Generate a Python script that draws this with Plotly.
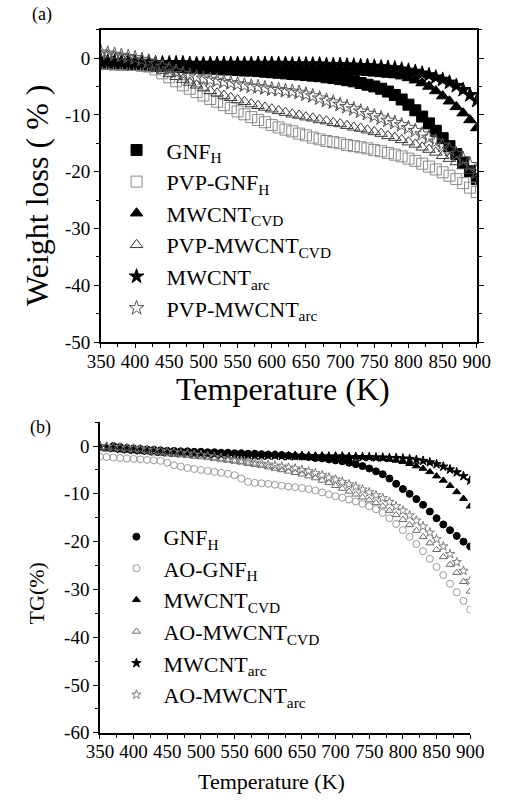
import plotly.graph_objects as go

# ---------------- data ----------------
T = [350, 360, 370, 380, 390, 400, 410, 420, 430, 440, 450, 460, 470, 480, 490,
     500, 510, 520, 530, 540, 550, 560, 570, 580, 590, 600, 610, 620, 630, 640,
     650, 660, 670, 680, 690, 700, 710, 720, 730, 740, 750, 760, 770, 780, 790,
     800, 810, 820, 830, 840, 850, 860, 870, 880, 890, 900]
T_b_gnf = T[2:]  # filled GNF_H in panel (b) starts at 370 K

# panel (a)
a_gnf = [-1.0, -1.0, -1.1, -1.1, -1.2, -1.2, -1.3, -1.3, -1.4, -1.4, -1.5, -1.5, -1.6, -1.7, -1.7,
         -1.8, -1.8, -1.9, -2.0, -2.0, -2.1, -2.2, -2.2, -2.3, -2.4, -2.5, -2.6, -2.7, -2.8, -2.9,
         -3.0, -3.1, -3.2, -3.4, -3.5, -3.7, -3.9, -4.1, -4.4, -4.7, -5.0, -5.4, -5.9, -6.5, -7.3,
         -8.2, -9.2, -10.3, -11.5, -12.8, -14.1, -15.5, -16.9, -18.4, -19.9, -21.3]
a_pvp_gnf = [-1.0, -1.0, -1.1, -1.1, -1.2, -1.2, -1.3, -1.5, -2.0, -2.7, -3.4, -4.1, -4.8, -5.4, -6.0,
             -6.6, -7.2, -7.7, -8.3, -8.8, -9.4, -9.9, -10.4, -10.9, -11.3, -11.8, -12.2, -12.6, -12.9, -13.3,
             -13.6, -14.0, -14.3, -14.6, -14.8, -15.0, -15.3, -15.5, -15.7, -15.9, -16.2, -16.4, -16.7, -17.0, -17.3,
             -17.7, -18.1, -18.6, -19.1, -19.6, -20.1, -20.7, -21.3, -22.0, -22.8, -23.6]
a_cvd = [-0.8, -0.9, -0.9, -1.0, -1.0, -1.1, -1.1, -1.2, -1.2, -1.3, -1.3, -1.4, -1.4, -1.5, -1.5,
         -1.5, -1.6, -1.6, -1.7, -1.7, -1.7, -1.8, -1.8, -1.9, -1.9, -2.0, -2.0, -2.0, -2.1, -2.1,
         -2.2, -2.2, -2.2, -2.3, -2.3, -2.4, -2.4, -2.5, -2.5, -2.6, -2.7, -2.8, -2.9, -3.0, -3.2,
         -3.5, -3.9, -4.4, -5.0, -5.8, -6.7, -7.6, -8.6, -9.7, -10.9, -12.3]
a_pvp_cvd = [0.5, 0.4, 0.2, 0.0, -0.3, -0.5, -0.8, -1.2, -1.7, -2.2, -2.8, -3.3, -3.8, -4.3, -4.8,
             -5.3, -5.8, -6.2, -6.6, -7.0, -7.4, -7.7, -8.1, -8.4, -8.7, -9.0, -9.3, -9.6, -9.9, -10.1,
             -10.4, -10.6, -10.9, -11.1, -11.4, -11.6, -11.9, -12.2, -12.4, -12.7, -13.0, -13.3, -13.7, -14.0, -14.4,
             -14.8, -15.2, -15.7, -16.1, -16.6, -17.2, -17.7, -18.3, -19.0, -19.8, -20.6]
a_arc = [-0.5, -0.6, -0.6, -0.7, -0.7, -0.8, -0.8, -0.8, -0.9, -0.9, -0.9, -0.9, -0.9, -1.0, -1.0,
         -1.0, -1.0, -1.0, -1.0, -1.0, -1.0, -1.0, -1.0, -1.0, -1.0, -1.0, -1.0, -1.0, -1.1, -1.1,
         -1.1, -1.1, -1.1, -1.2, -1.2, -1.2, -1.3, -1.3, -1.4, -1.4, -1.5, -1.6, -1.7, -1.8, -2.0,
         -2.2, -2.4, -2.7, -3.0, -3.4, -3.8, -4.3, -4.9, -5.6, -6.5, -7.5]
a_pvp_arc = [1.0, 0.8, 0.6, 0.4, 0.2, 0.0, -0.3, -0.6, -1.0, -1.5, -2.0, -2.4, -2.8, -3.1, -3.4,
             -3.6, -3.8, -4.0, -4.2, -4.4, -4.6, -4.8, -5.0, -5.1, -5.3, -5.5, -5.6, -5.8, -5.9, -6.1,
             -6.4, -6.7, -7.1, -7.5, -7.8, -8.2, -8.6, -9.0, -9.4, -9.8, -10.2, -10.6, -11.0, -11.4, -11.8,
             -12.3, -12.8, -13.4, -14.0, -14.7, -15.4, -16.1, -16.9, -17.8, -18.8, -20.0]

# panel (b)
b_gnf = [0.0, -0.2, -0.4, -0.5, -0.6, -0.7, -0.8, -0.9, -1.0, -1.0, -1.1, -1.1, -1.2,
         -1.2, -1.3, -1.3, -1.4, -1.4, -1.5, -1.5, -1.6, -1.6, -1.7, -1.8, -1.8, -1.9, -2.0, -2.1,
         -2.2, -2.3, -2.5, -2.6, -2.8, -3.0, -3.2, -3.5, -3.8, -4.2, -4.7, -5.3, -5.9, -6.8, -7.9,
         -9.0, -10.0, -11.1, -12.3, -13.7, -15.1, -16.4, -17.6, -18.8, -20.0, -21.0]
b_ao_gnf = [-2.2, -2.3, -2.4, -2.5, -2.6, -2.7, -2.8, -2.9, -3.0, -3.1, -3.5, -4.0, -4.3, -4.6, -4.8,
            -5.0, -5.2, -5.4, -5.6, -5.8, -6.1, -6.8, -7.5, -7.7, -7.8, -7.9, -8.1, -8.3, -8.5, -8.6,
            -8.8, -9.0, -9.3, -9.7, -10.1, -10.5, -10.8, -11.2, -11.6, -12.1, -12.6, -13.2, -14.0, -15.1, -16.3,
            -17.6, -19.0, -20.5, -22.0, -23.6, -25.3, -27.0, -28.8, -30.6, -32.4, -34.2]
b_cvd = [-0.5, -0.6, -0.7, -0.8, -0.9, -1.0, -1.0, -1.1, -1.1, -1.2, -1.2, -1.3, -1.3, -1.4, -1.4,
         -1.5, -1.5, -1.5, -1.6, -1.6, -1.6, -1.7, -1.7, -1.7, -1.8, -1.8, -1.8, -1.8, -1.9, -1.9,
         -1.9, -2.0, -2.0, -2.0, -2.1, -2.1, -2.1, -2.2, -2.2, -2.3, -2.4, -2.5, -2.6, -2.8, -3.0,
         -3.3, -3.7, -4.2, -4.7, -5.4, -6.3, -7.2, -8.3, -9.6, -11.0, -12.6]
b_ao_cvd = [-0.6, -0.7, -0.8, -0.9, -1.0, -1.1, -1.2, -1.3, -1.5, -1.6, -1.7, -1.8, -1.9, -2.0, -2.2,
            -2.3, -2.4, -2.6, -2.8, -3.0, -3.2, -3.4, -3.7, -3.9, -4.1, -4.4, -4.7, -5.0, -5.3, -5.6,
            -5.9, -6.3, -6.7, -7.2, -7.7, -8.3, -8.9, -9.5, -10.1, -10.7, -11.3, -11.9, -12.6, -13.5, -14.4,
            -15.4, -16.5, -17.7, -19.0, -20.3, -21.7, -23.2, -24.8, -26.5, -28.4, -30.4]
b_arc = [0.0, -0.2, -0.4, -0.6, -0.7, -0.8, -0.9, -1.0, -1.1, -1.2, -1.3, -1.4, -1.5, -1.5, -1.6,
         -1.6, -1.7, -1.7, -1.8, -1.8, -1.9, -1.9, -1.9, -2.0, -2.0, -2.0, -2.0, -2.1, -2.1, -2.1,
         -2.1, -2.1, -2.2, -2.2, -2.2, -2.2, -2.2, -2.3, -2.3, -2.3, -2.3, -2.4, -2.4, -2.5, -2.5,
         -2.6, -2.7, -2.9, -3.1, -3.4, -3.8, -4.3, -4.9, -5.5, -6.3, -7.2]
b_ao_arc = [0.0, -0.1, -0.2, -0.3, -0.4, -0.5, -0.6, -0.8, -0.9, -1.0, -1.2, -1.3, -1.5, -1.6, -1.8,
            -1.9, -2.1, -2.3, -2.5, -2.7, -2.9, -3.1, -3.3, -3.5, -3.7, -3.9, -4.1, -4.3, -4.5, -4.7,
            -5.0, -5.3, -5.7, -6.1, -6.6, -7.0, -7.5, -8.0, -8.5, -9.1, -9.7, -10.3, -10.9, -11.7, -12.6,
            -13.5, -14.5, -15.6, -16.8, -18.1, -19.5, -21.0, -22.6, -24.3, -26.1, -28.2]

x_ticks = [350, 400, 450, 500, 550, 600, 650, 700, 750, 800, 850, 900]
x_ticktext = ["350", "400", "450", "500", "550", "600", "650", "700", "750", "800", "850", "900"]
ya_ticks = [0, -10, -20, -30, -40, -50]
ya_ticktext = ["0", "-10", "-20", "-30", "-40", "-50"]
yb_ticks = [0, -10, -20, -30, -40, -50, -60]
yb_ticktext = ["0", "-10", "-20", "-30", "-40", "-50", "-60"]

names_a = ["GNF<sub>H</sub>", "PVP-GNF<sub>H</sub>", "MWCNT<sub>CVD</sub>",
           "PVP-MWCNT<sub>CVD</sub>", "MWCNT<sub>arc</sub>", "PVP-MWCNT<sub>arc</sub>"]
names_b = ["GNF<sub>H</sub>", "AO-GNF<sub>H</sub>", "MWCNT<sub>CVD</sub>",
           "AO-MWCNT<sub>CVD</sub>", "MWCNT<sub>arc</sub>", "AO-MWCNT<sub>arc</sub>"]

# ---------------- figure ----------------
FONT = "Liberation Serif, Times New Roman, serif"
W, H = 505, 803
fig = go.Figure()

series_a = [
    (T, a_gnf, "square", "black"),
    (T, a_pvp_gnf, "square-open", "#8a8a8a"),
    (T, a_cvd, "triangle-up", "black"),
    (T, a_pvp_cvd, "triangle-up-open", "#3a3a3a"),
    (T, a_arc, "star", "black"),
    (T, a_pvp_arc, "star-open", "#555555"),
]
for (x, y, sym, col), nm in zip(series_a, names_a):
    fig.add_trace(go.Scatter(
        x=x, y=y, mode="markers", name=nm, legend="legend",
        marker=dict(symbol=sym, size=11, color=col, line=dict(color=col, width=1)),
        xaxis="x", yaxis="y"))

series_b = [
    (T_b_gnf, b_gnf, "circle", "black"),
    (T, b_ao_gnf, "circle-open", "#9a9a9a"),
    (T, b_cvd, "triangle-up", "black"),
    (T, b_ao_cvd, "triangle-up-open", "#6a6a6a"),
    (T, b_arc, "star", "black"),
    (T, b_ao_arc, "star-open", "#7a7a7a"),
]
for (x, y, sym, col), nm in zip(series_b, names_b):
    fig.add_trace(go.Scatter(
        x=x, y=y, mode="markers", name=nm, legend="legend2",
        marker=dict(symbol=sym, size=7, color=col, line=dict(color=col, width=1)),
        xaxis="x2", yaxis="y2"))

ax_common = dict(showgrid=False, zeroline=False, showline=True, linecolor="black",
                 linewidth=1.5, tickcolor="black", tickfont=dict(family=FONT, size=19, color="black"))

xa_dom = [92 / W, 490 / W]
ya_dom = [1 - 347 / H, 1 - 30 / H]
xb_dom = [91 / W, 483 / W]
yb_dom = [1 - 743 / H, 1 - 428 / H]


def ann(text, xpx, ypx, size, angle=0):
    return dict(text=text, x=xpx / W, y=1 - ypx / H, xref="paper", yref="paper", showarrow=False,
                textangle=angle, xanchor="center", yanchor="middle",
                font=dict(family=FONT, size=size, color="black"))


fig.update_layout(
    width=W, height=H, margin=dict(l=0, r=0, t=0, b=0),
    paper_bgcolor="white", plot_bgcolor="white",
    font=dict(family=FONT, color="black"),
    xaxis=dict(domain=xa_dom, anchor="y", range=[350, 900], tickvals=x_ticks, ticktext=x_ticktext,
               ticks="outside", ticklen=4, tickwidth=1.2, mirror=True, ticklabelstandoff=-3,
               minor=dict(dtick=25, ticks="outside", ticklen=3, tickcolor="black"),
               **ax_common),
    yaxis=dict(domain=ya_dom, anchor="x", range=[-50, 5], tickvals=ya_ticks, ticktext=ya_ticktext,
               ticks="outside", ticklen=5, tickwidth=1.2, mirror="ticks",
               minor=dict(dtick=5, ticks="outside", ticklen=3, tickcolor="black"),
               **ax_common),
    xaxis3=dict(domain=xa_dom, anchor="y", overlaying="x", side="top", range=[350, 900],
                tickvals=x_ticks, showticklabels=False, ticks="inside", ticklen=5, tickwidth=1.2,
                tickcolor="black", showgrid=False, zeroline=False, showline=False,
                minor=dict(dtick=25, ticks="inside", ticklen=3, tickcolor="black")),
    xaxis2=dict(domain=xb_dom, anchor="y2", range=[350, 900], tickvals=x_ticks, ticktext=x_ticktext,
                ticks="outside", ticklen=4, tickwidth=1.2, ticklabelstandoff=-3,
                minor=dict(dtick=25, ticks="outside", ticklen=3, tickcolor="black"),
                **ax_common),
    yaxis2=dict(domain=yb_dom, anchor="x2", range=[-60, 5], tickvals=yb_ticks, ticktext=yb_ticktext,
                ticks="outside", ticklen=5, tickwidth=1.2,
                minor=dict(dtick=5, ticks="outside", ticklen=3, tickcolor="black"),
                **ax_common),
    legend=dict(x=98 / W, y=1 - 131 / H, xanchor="left", yanchor="top",
                bgcolor="rgba(0,0,0,0)", borderwidth=0, itemwidth=50,
                font=dict(family=FONT, size=22, color="black"), tracegroupgap=0),
    legend2=dict(x=101 / W, y=1 - 523 / H, xanchor="left", yanchor="top",
                 bgcolor="rgba(0,0,0,0)", borderwidth=0, itemwidth=44,
                 font=dict(family=FONT, size=22, color="black"), tracegroupgap=0),
    showlegend=True,
    annotations=[
        ann("(a)", 30, 15, 18),
        ann("(b)", 28, 433, 18),
        ann("Temperature (K)", 285, 394, 32),
        ann("Weight loss ( % )", 25, 198, 32, -90),
        ann("Temperature (K)", 273, 792, 22),
        ann("TG(%)", 24, 602, 22, -90),
    ],
)

fig.write_html("out.html")
